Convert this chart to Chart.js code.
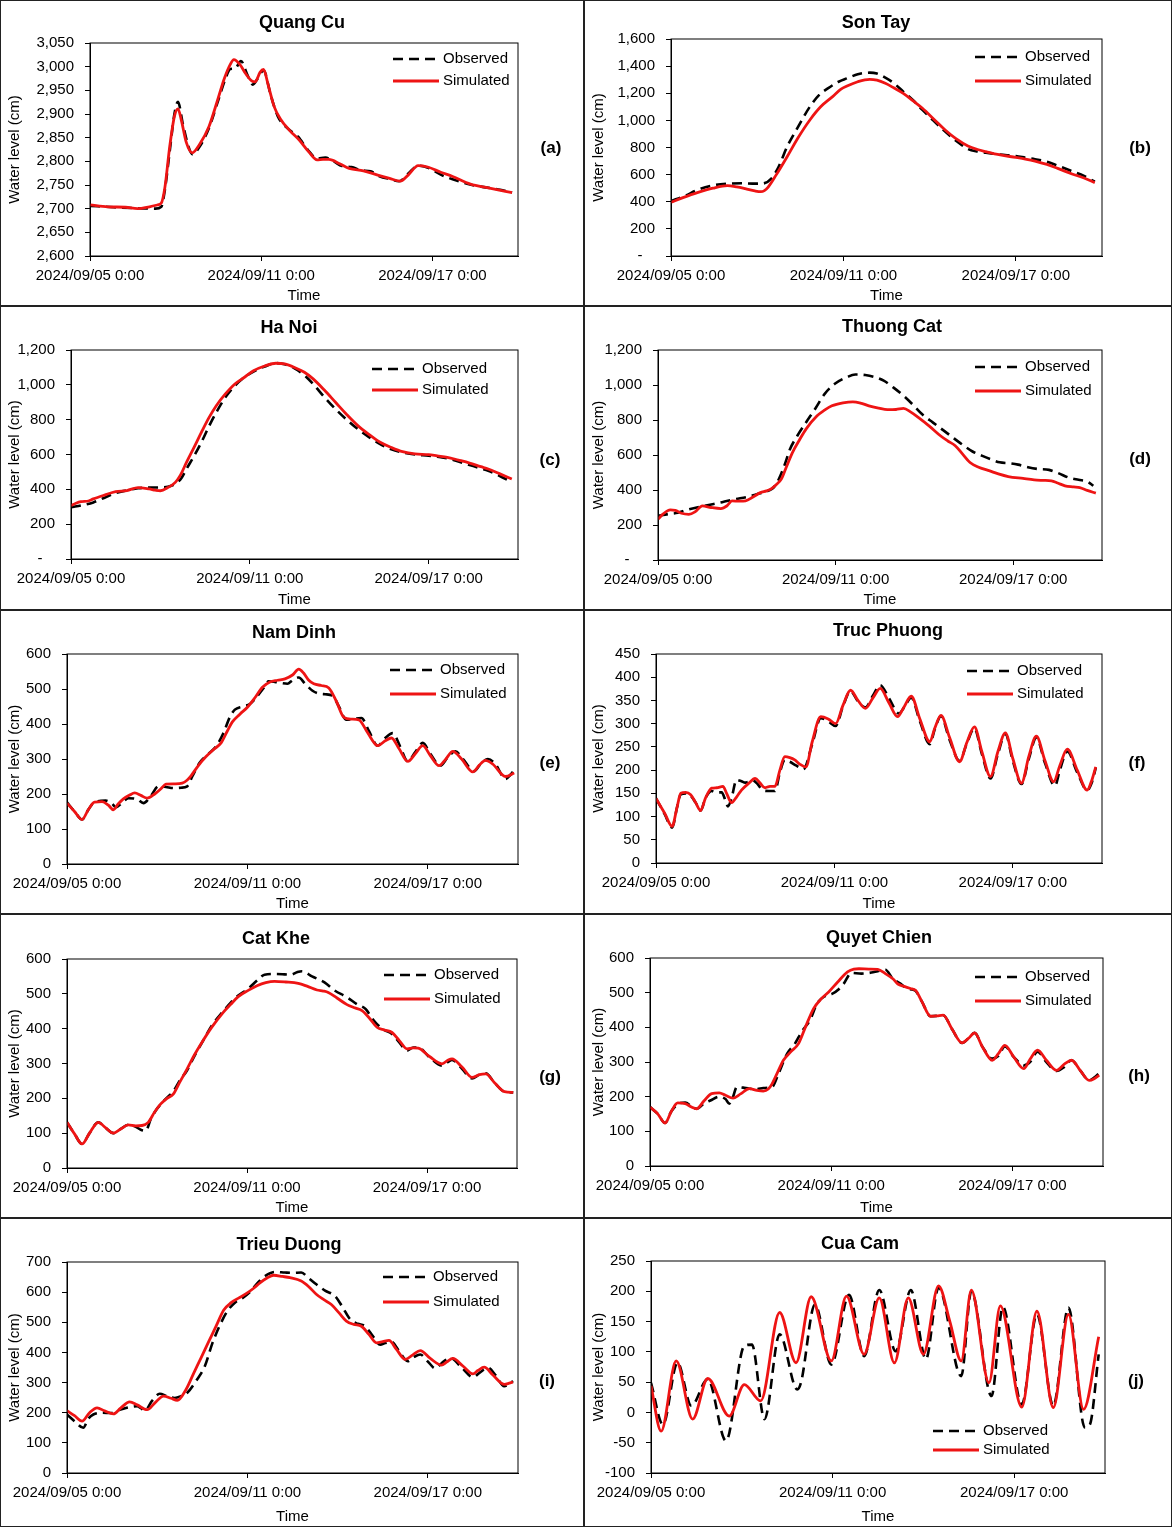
<!DOCTYPE html>
<html lang="en">
<head>
    <meta charset="UTF-8">
    <title>Water level - observed vs simulated</title>
    <script src="https://cdn.jsdelivr.net/npm/chart.js"></script>
    <style>
        body, html {
            margin: 0;
            background: #fff;
            font-family: "Liberation Sans", Arial, sans-serif;
        }
        #sheet {
            position: relative;
            width: 1173px;
            height: 1527px;
        }
        .panel {
            position: absolute;
        }
        .panel canvas {
            position: absolute;
            top: 0;
            left: 0;
        }
        .frame {
            position: absolute;
            inset: 0;
            border: 1.5px solid #222;
            pointer-events: none;
        }
    </style>
</head>
<body>
<div id="sheet"></div>
<script>
    // x values are hours after 2024/09/05 0:00, y values are water level in cm
    const timeTicks = ['2024/09/05 0:00', '2024/09/11 0:00', '2024/09/17 0:00'];
    const stationNames = ['Quang Cu', 'Son Tay', 'Ha Noi', 'Thuong Cat', 'Nam Dinh',
        'Truc Phuong', 'Cat Khe', 'Quyet Chien', 'Trieu Duong', 'Cua Cam'];
    const panelTags = ['(a)', '(b)', '(c)', '(d)', '(e)', '(f)', '(g)', '(h)', '(i)', '(j)'];
    const seriesNames = ['Observed', 'Simulated'];

    const quangCuObs = [[0,2706],[20,2703],[40,2701],[55,2700],[60,2704],[63,2740],[67,2820],[71,2900],[74,2926],[78,2880],[83,2830],[86,2815],[92,2830],[100,2870],[108,2930],[114,2975],[118,2995],[122,2996],[127,3012],[132,2985],[137,2962],[141,2975],[146,2992],[152,2940],[158,2895],[166,2870],[175,2852],[183,2825],[191,2806],[198,2808],[205,2800],[212,2790],[220,2788],[228,2781],[236,2779],[244,2768],[252,2763],[260,2758],[268,2775],[276,2791],[285,2786],[295,2772],[305,2762],[318,2752],[330,2746],[345,2740],[355,2734]];
    const quangCuSim = [[0,2708],[15,2704],[30,2703],[40,2700],[50,2704],[57,2708],[60,2712],[63,2745],[67,2830],[71,2895],[74,2911],[77,2885],[81,2840],[86,2818],[92,2835],[100,2873],[108,2935],[113,2975],[118,3005],[121,3015],[126,3005],[131,2985],[136,2970],[139,2968],[143,2988],[146,2994],[150,2960],[155,2915],[160,2890],[168,2865],[176,2845],[184,2820],[191,2803],[196,2804],[201,2804],[210,2795],[218,2785],[230,2780],[242,2771],[252,2764],[261,2758],[268,2772],[276,2791],[284,2788],[295,2777],[305,2768],[320,2752],[335,2744],[355,2734]];

    const sonTayObs = [[0,405],[12,445],[22,487],[35,520],[47,533],[59,536],[68,534],[76,534],[84,573],[90,660],[97,806],[106,950],[116,1101],[124,1190],[131,1236],[140,1285],[147,1310],[156,1340],[166,1352],[172,1345],[179,1315],[186,1275],[194,1212],[202,1150],[210,1077],[219,1000],[229,917],[238,850],[248,789],[256,770],[263,762],[275,748],[288,737],[296,725],[304,713],[314,695],[323,666],[335,625],[345,590],[354,548]];
    const sonTaySim = [[0,396],[10,430],[22,467],[35,500],[47,519],[55,510],[62,497],[70,480],[75,474],[78,482],[81,506],[88,600],[97,732],[106,870],[116,1003],[125,1100],[135,1175],[142,1230],[147,1253],[156,1285],[166,1303],[172,1296],[179,1273],[186,1240],[194,1199],[202,1145],[210,1089],[220,1005],[229,929],[238,865],[248,811],[256,785],[263,769],[275,745],[288,727],[296,715],[304,700],[314,675],[323,646],[335,605],[345,575],[354,541]];

    const haNoiObs = [[0,297],[10,310],[18,325],[27,352],[36,379],[45,394],[54,406],[63,410],[72,411],[78,415],[84,431],[89,465],[93,517],[99,590],[105,670],[111,760],[117,842],[124,925],[132,995],[140,1045],[147,1076],[156,1105],[165,1125],[172,1118],[180,1095],[188,1055],[195,1005],[204,930],[213,861],[222,800],[231,746],[240,700],[249,660],[258,630],[267,612],[277,600],[288,593],[295,587],[303,578],[312,560],[321,540],[330,520],[336,507],[345,478],[355,440]];
    const haNoiSim = [[0,306],[4,320],[8,329],[14,333],[18,345],[27,367],[36,387],[45,393],[54,410],[63,402],[68,395],[72,392],[78,410],[84,440],[88,480],[93,555],[99,640],[105,727],[111,810],[117,880],[124,945],[132,1005],[140,1045],[147,1081],[156,1108],[165,1124],[172,1120],[180,1100],[188,1072],[195,1034],[204,970],[213,900],[222,830],[231,766],[240,715],[249,670],[258,640],[267,616],[277,603],[288,599],[295,592],[303,584],[312,568],[321,551],[330,530],[336,517],[345,490],[355,459]];

    const thuongCatObs = [[0,252],[8,262],[16,270],[25,290],[40,313],[52,330],[62,347],[72,360],[80,376],[88,392],[92,404],[95,425],[98,462],[103,550],[107,633],[113,710],[120,786],[128,870],[135,948],[144,1010],[153,1044],[160,1060],[168,1057],[176,1045],[183,1025],[191,985],[199,939],[207,885],[214,834],[223,785],[232,738],[240,695],[248,653],[255,620],[263,595],[270,575],[277,558],[285,553],[292,545],[300,530],[308,520],[317,515],[325,495],[333,471],[341,458],[348,448],[353,424]];
    const thuongCatSim = [[0,233],[4,262],[10,286],[14,284],[19,267],[25,261],[30,275],[36,309],[43,300],[51,294],[56,310],[60,338],[66,336],[71,338],[77,360],[83,385],[88,395],[92,408],[96,432],[100,462],[104,530],[109,614],[115,690],[120,748],[129,824],[135,856],[141,881],[150,898],[158,904],[165,895],[171,881],[179,868],[186,859],[193,860],[199,866],[205,845],[211,815],[220,765],[229,710],[235,680],[241,653],[247,605],[253,557],[260,530],[269,509],[276,492],[284,477],[296,466],[305,458],[312,455],[319,452],[324,440],[330,424],[337,418],[342,414],[348,398],[355,382]];

    const namDinhObs = [[0,176],[6,150],[12,127],[17,155],[22,177],[31,181],[36,172],[39,162],[44,175],[49,188],[56,185],[61,174],[67,195],[73,222],[79,220],[85,217],[91,218],[96,222],[100,250],[106,290],[113,315],[119,336],[125,375],[130,420],[134,441],[140,450],[146,457],[152,480],[157,503],[161,522],[166,520],[171,517],[176,515],[180,525],[185,533],[190,515],[196,495],[200,488],[206,485],[212,481],[217,450],[223,412],[229,415],[235,417],[241,380],[248,338],[254,360],[260,374],[266,335],[272,293],[278,320],[284,346],[290,315],[298,281],[304,305],[310,322],[316,300],[325,265],[330,285],[336,300],[342,285],[350,243],[354,255],[357,269]];
    const namDinhSim = [[0,174],[6,150],[12,127],[17,155],[22,177],[28,178],[33,168],[37,155],[41,172],[45,186],[50,197],[54,203],[59,196],[64,188],[70,200],[75,215],[79,228],[86,229],[92,231],[96,240],[99,252],[105,282],[111,307],[117,327],[123,346],[128,380],[132,406],[138,428],[144,448],[150,475],[156,505],[162,520],[168,525],[174,529],[180,540],[185,557],[189,545],[193,525],[197,515],[203,510],[209,503],[215,465],[221,419],[227,414],[233,412],[240,375],[248,338],[254,352],[259,360],[265,330],[272,293],[278,315],[284,338],[290,310],[297,281],[302,298],[308,322],[315,300],[324,263],[329,282],[334,296],[340,285],[350,250],[357,260]];

    const trucPhuongObs = [[0,139],[7,105],[13,76],[17,120],[20,148],[24,150],[28,145],[32,130],[36,113],[40,140],[45,155],[48,152],[53,152],[56,135],[58,122],[61,140],[65,179],[69,176],[72,173],[78,178],[82,170],[86,157],[91,155],[96,155],[100,195],[104,222],[108,218],[113,210],[119,202],[126,255],[133,312],[139,305],[145,295],[151,338],[157,370],[163,348],[169,335],[175,360],[181,383],[188,355],[196,322],[201,338],[206,356],[213,305],[221,256],[225,288],[230,316],[237,265],[245,220],[251,258],[257,290],[263,235],[270,182],[276,235],[282,278],[288,220],[295,170],[301,225],[307,270],[314,215],[322,166],[326,200],[332,240],[340,195],[348,157],[352,175],[355,205]];
    const trucPhuongSim = [[0,139],[7,107],[13,79],[17,120],[20,150],[24,152],[28,147],[32,130],[36,113],[40,140],[45,161],[49,162],[54,165],[57,150],[61,130],[65,142],[69,157],[75,172],[80,182],[84,172],[88,162],[92,165],[96,165],[100,200],[104,229],[108,227],[112,222],[116,213],[121,207],[126,260],[133,315],[139,310],[145,300],[151,340],[157,372],[163,350],[169,333],[175,355],[181,376],[188,345],[195,315],[200,335],[206,359],[213,310],[221,261],[225,290],[230,318],[237,270],[245,218],[251,260],[257,293],[263,240],[270,186],[276,240],[282,280],[288,225],[295,172],[301,230],[307,273],[314,220],[321,175],[326,210],[332,245],[340,200],[348,157],[352,180],[355,207]];

    const catKheObs = [[0,131],[6,98],[12,69],[18,100],[25,131],[31,115],[37,100],[43,112],[49,124],[55,118],[59,110],[63,107],[67,140],[72,170],[78,195],[85,220],[90,250],[96,280],[102,322],[108,360],[116,410],[125,450],[131,475],[137,495],[145,515],[152,538],[158,555],[167,557],[174,556],[179,555],[184,562],[188,565],[196,550],[206,533],[214,510],[224,490],[232,470],[239,456],[244,430],[248,413],[254,396],[260,385],[266,360],[272,337],[277,346],[281,346],[290,318],[300,294],[305,305],[308,310],[316,285],[324,257],[330,268],[335,272],[342,245],[350,219],[357,217]];
    const catKheSim = [[0,131],[6,98],[12,69],[18,100],[25,131],[31,115],[37,100],[43,112],[49,124],[55,121],[60,122],[65,131],[70,160],[75,184],[80,200],[85,212],[90,245],[96,284],[102,325],[108,361],[116,405],[125,447],[131,470],[137,492],[145,510],[152,523],[159,532],[166,536],[175,534],[185,530],[192,522],[200,511],[205,508],[209,504],[216,488],[224,469],[230,460],[236,452],[242,430],[248,404],[254,396],[260,389],[266,365],[272,342],[277,345],[281,344],[290,320],[300,299],[305,310],[308,313],[316,290],[324,260],[330,268],[335,270],[342,245],[350,219],[357,217]];

    const quyetChienObs = [[0,170],[6,151],[12,124],[17,158],[22,178],[28,183],[33,172],[37,165],[43,180],[48,189],[55,200],[60,193],[63,180],[66,200],[69,228],[74,226],[79,223],[85,222],[90,225],[97,228],[102,265],[109,324],[115,352],[121,390],[127,420],[133,470],[139,490],[145,497],[150,510],[154,526],[160,557],[168,555],[176,558],[181,562],[187,566],[193,540],[199,526],[203,515],[207,510],[211,505],[216,475],[223,432],[228,433],[233,435],[240,395],[248,355],[253,368],[258,384],[264,345],[272,310],[277,318],[282,345],[289,315],[297,290],[302,300],[308,330],[315,300],[323,274],[329,285],[335,305],[342,275],[349,247],[353,255],[357,268]];
    const quyetChienSim = [[0,170],[6,151],[12,124],[17,158],[22,182],[28,180],[33,170],[37,165],[43,188],[49,209],[55,211],[60,204],[66,196],[72,208],[79,223],[85,218],[90,216],[94,222],[97,237],[102,275],[106,305],[112,330],[118,353],[124,405],[130,454],[136,482],[142,502],[149,530],[157,560],[162,568],[166,569],[174,568],[181,567],[187,555],[193,540],[197,525],[202,518],[207,512],[211,507],[216,475],[223,432],[228,433],[233,435],[240,395],[248,355],[253,368],[258,384],[264,345],[272,305],[277,325],[282,348],[289,315],[297,281],[302,308],[308,334],[315,305],[323,276],[330,296],[335,305],[342,275],[349,247],[353,252],[357,262]];

    const trieuDuongObs = [[0,194],[6,172],[13,150],[17,180],[21,194],[28,200],[35,199],[41,208],[47,216],[52,220],[56,222],[59,215],[62,207],[68,240],[74,263],[80,255],[86,249],[91,255],[96,266],[103,305],[110,354],[116,430],[122,490],[128,537],[134,565],[140,580],[146,600],[152,630],[158,653],[166,667],[174,665],[180,664],[187,665],[193,646],[199,626],[206,605],[214,587],[220,550],[226,510],[232,495],[238,487],[244,455],[250,426],[254,431],[259,435],[265,405],[272,371],[277,385],[282,393],[288,370],[294,347],[300,368],[306,382],[315,350],[324,318],[330,335],[336,349],[342,325],[349,288],[353,295],[356,305]];
    const trieuDuongSim = [[0,207],[6,190],[12,172],[18,200],[24,216],[30,206],[37,196],[43,216],[50,236],[56,226],[64,210],[70,232],[77,255],[83,248],[88,241],[95,277],[101,330],[107,382],[113,435],[119,487],[125,540],[131,565],[137,580],[143,595],[149,613],[154,631],[160,648],[165,656],[172,652],[178,648],[187,637],[193,618],[199,593],[205,575],[211,559],[217,532],[223,504],[229,493],[235,487],[241,460],[247,432],[252,436],[257,440],[263,410],[270,377],[276,392],[282,406],[290,380],[299,358],[303,368],[308,380],[316,355],[324,329],[328,340],[333,351],[340,325],[349,294],[353,298],[356,302]];

    const cuaCamObs = [[0,49],[9.5,-20],[21,82],[32,11],[45,55],[59.5,-47],[74,110],[80,112],[90,-11],[102,129],[116,38],[119,50],[130,178],[143,79],[157,194],[169,93],[181,202],[194,101],[206,202],[218,88],[228,206],[246,60],[254,200],[270,27],[279,174],[294,13],[306,162],[319,11],[331,173],[344,-25],[348,-20],[355,96]];
    const cuaCamSim = [[0,44],[8,-31],[20,85],[33,-11],[45,56],[62,-6],[74,46],[87,19],[102,165],[115,82],[127,191],[143,85],[155,192],[169,96],[181,189],[193,82],[204,189],[216,96],[228,209],[237,150],[246,85],[254,202],[268,49],[277,176],[294,9],[306,167],[319,8],[331,162],[343,5],[355,125]];

    const FONT = '"Liberation Sans", Arial, sans-serif';
    const RED = '#ee1414';

    // panel placement on the sheet
    const colX = [0, 584];
    const colW = [584, 588];
    const rowY = [0, 306, 610, 914, 1218];
    const rowH = [306, 304, 304, 304, 309];

    // per panel: data, y range, plot box [L, T, R, B], title centre, legend [x, y1, y2], tag centre
    const panels = [
        { obs: quangCuObs, sim: quangCuSim, y: [2600, 3050, 50], dash: false, box: [90, 43, 518, 256], title: [302, 23], legend: [393, 59, 81], tag: [551, 148] },
        { obs: sonTayObs, sim: sonTaySim, y: [0, 1600, 200], dash: true, box: [87, 39, 518, 256], title: [292, 23], legend: [391, 57, 81], tag: [556, 148] },
        { obs: haNoiObs, sim: haNoiSim, y: [0, 1200, 200], dash: true, box: [71, 44, 518, 253], title: [289, 22], legend: [372, 63, 84], tag: [550, 154] },
        { obs: thuongCatObs, sim: thuongCatSim, y: [0, 1200, 200], dash: true, box: [74, 44, 518, 254], title: [308, 21], legend: [391, 61, 85], tag: [556, 153] },
        { obs: namDinhObs, sim: namDinhSim, y: [0, 600, 100], dash: false, box: [67, 44, 518, 254], title: [294, 23], legend: [390, 60, 84], tag: [550, 153] },
        { obs: trucPhuongObs, sim: trucPhuongSim, y: [0, 450, 50], dash: false, box: [72, 44, 518, 253], title: [304, 21], legend: [383, 61, 84], tag: [553, 153] },
        { obs: catKheObs, sim: catKheSim, y: [0, 600, 100], dash: false, box: [67, 45, 517, 254], title: [276, 25], legend: [384, 61, 85], tag: [550, 163] },
        { obs: quyetChienObs, sim: quyetChienSim, y: [0, 600, 100], dash: false, box: [66, 44, 519, 252], title: [295, 24], legend: [391, 63, 87], tag: [555, 162] },
        { obs: trieuDuongObs, sim: trieuDuongSim, y: [0, 700, 100], dash: false, box: [67, 44, 518, 255], title: [289, 27], legend: [383, 59, 84], tag: [547, 163] },
        { obs: cuaCamObs, sim: cuaCamSim, y: [-100, 250, 50], dash: false, box: [67, 43, 521, 255], title: [276, 26], legend: [349, 213, 232], tag: [552, 163] }
    ];

    Chart.defaults.font.family = FONT;
    Chart.defaults.font.size = 15;
    Chart.defaults.color = '#000';

    function toXY(pairs) {
        return pairs.map(p => ({ x: p[0], y: p[1] }));
    }

    // title, legend, tag and the box round the plot area
    function makeDecor(p, i) {
        return {
            id: 'decor' + i,
            afterDraw(chart) {
                const { ctx, chartArea: a } = chart;
                ctx.save();
                ctx.strokeStyle = '#000';
                ctx.lineWidth = 1;
                ctx.strokeRect(a.left, a.top, a.right - a.left, a.bottom - a.top);

                ctx.fillStyle = '#000';
                ctx.textBaseline = 'middle';
                ctx.textAlign = 'center';
                ctx.font = 'bold 18px ' + FONT;
                ctx.fillText(stationNames[i], p.title[0], p.title[1]);
                ctx.font = 'bold 17px ' + FONT;
                ctx.fillText(panelTags[i], p.tag[0], p.tag[1]);

                ctx.font = '15px ' + FONT;
                ctx.textAlign = 'left';
                chart.data.datasets.forEach((ds, k) => {
                    const x = p.legend[0], y = p.legend[1 + k];
                    ctx.strokeStyle = ds.borderColor;
                    ctx.lineWidth = ds.borderWidth;
                    ctx.setLineDash(ds.borderDash || []);
                    ctx.beginPath();
                    ctx.moveTo(x, y);
                    ctx.lineTo(x + 46, y);
                    ctx.stroke();
                    ctx.setLineDash([]);
                    ctx.fillText(ds.label, x + 50, y);
                });
                ctx.restore();
            }
        };
    }

    const sheet = document.getElementById('sheet');

    panels.forEach((p, i) => {
        const col = i % 2, row = Math.floor(i / 2);
        const W = colW[col], H = rowH[row];
        const [L, T, R, B] = p.box;

        const div = document.createElement('div');
        div.className = 'panel';
        div.style.left = colX[col] + 'px';
        div.style.top = rowY[row] + 'px';
        div.style.width = W + 'px';
        div.style.height = H + 'px';
        const canvas = document.createElement('canvas');
        canvas.width = W;
        canvas.height = H;
        canvas.style.width = W + 'px';
        canvas.style.height = H + 'px';
        div.appendChild(canvas);
        const frame = document.createElement('div');
        frame.className = 'frame';
        div.appendChild(frame);
        sheet.appendChild(div);

        new Chart(canvas, {
            type: 'line',
            data: {
                datasets: [
                    {
                        label: seriesNames[0],
                        data: toXY(p.obs),
                        borderColor: '#000',
                        borderWidth: 2.6,
                        borderDash: [10, 6],
                        order: 1
                    },
                    {
                        label: seriesNames[1],
                        data: toXY(p.sim),
                        borderColor: RED,
                        borderWidth: 2.8,
                        order: 0
                    }
                ]
            },
            options: {
                responsive: false,
                animation: false,
                elements: {
                    point: { radius: 0 },
                    line: { cubicInterpolationMode: 'monotone', fill: false }
                },
                layout: { padding: { left: 0, top: T, right: W - R, bottom: 0 } },
                plugins: {
                    legend: { display: false },
                    tooltip: { enabled: false }
                },
                scales: {
                    x: {
                        type: 'linear',
                        min: 0,
                        max: 360,
                        afterFit: s => { s.height = H - B; },
                        ticks: {
                            stepSize: 144,
                            includeBounds: false,
                            autoSkip: false,
                            maxRotation: 0,
                            padding: 6,
                            callback: v => timeTicks[v / 144]
                        },
                        grid: { drawOnChartArea: false, drawTicks: true, tickLength: 5, color: '#000' },
                        border: { color: '#000' },
                        title: { display: true, text: 'Time', padding: { top: 0, bottom: 1 } }
                    },
                    y: {
                        min: p.y[0],
                        max: p.y[1],
                        afterFit: s => { s.width = L; },
                        ticks: {
                            stepSize: p.y[2],
                            padding: 11,
                            callback: v => (v === 0 && p.dash) ? '-   ' : v.toLocaleString('en-US')
                        },
                        grid: { drawOnChartArea: false, drawTicks: true, tickLength: 5, color: '#000' },
                        border: { color: '#000' },
                        title: { display: true, text: 'Water level (cm)', padding: { top: 6, bottom: 0 } }
                    }
                }
            },
            plugins: [makeDecor(p, i)]
        });
    });
</script>
</body>
</html>
